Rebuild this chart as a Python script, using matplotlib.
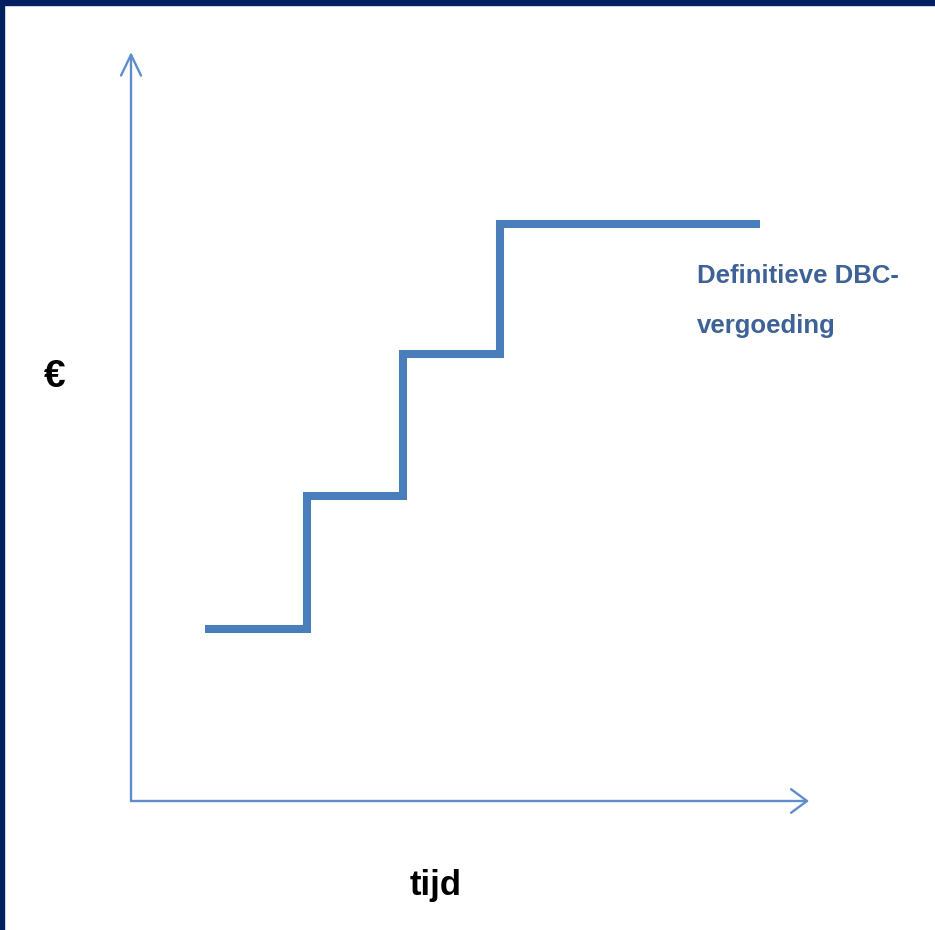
import matplotlib
matplotlib.use("Agg")
import matplotlib.pyplot as plt
from matplotlib.patches import Rectangle

# step function: time breakpoints and euro levels
step_times = [0.74, 1.76, 2.72, 3.69, 6.29]
step_levels = [1.72, 3.05, 4.47, 5.77]
x_max = 6.78
y_max = 7.49

label_lines = ["Definitieve DBC-", "vergoeding"]
x_label = "tijd"
y_label = "€"

FONT = ["Liberation Sans", "DejaVu Sans"]

W, H = 935, 930
fig = plt.figure(figsize=(W / 100, H / 100), dpi=100)
fig.patch.set_facecolor("white")

# navy frame on the top and left edge
navy = "#002060"
fig.patches.append(Rectangle((0, 0), 4 / W, 1, transform=fig.transFigure,
                             color=navy, zorder=10))
fig.patches.append(Rectangle((0, 1 - 5 / H), 1, 5 / H, transform=fig.transFigure,
                             color=navy, zorder=10))

x0, y0 = 131, 801
ax = fig.add_axes([x0 / W, (H - y0) / H, (809 - x0) / W, (y0 - 52) / H])
ax.set_xlim(0, x_max)
ax.set_ylim(0, y_max)
ax.set_axis_off()

# axis arrows
arrow_col = "#5F8DCC"
ax.annotate("", xy=(1, 0), xytext=(0, 0), xycoords="axes fraction",
            arrowprops=dict(arrowstyle="->,head_length=1.15,head_width=0.85",
                            color=arrow_col, lw=1.7, shrinkA=0, shrinkB=0))
ax.annotate("", xy=(0, 1), xytext=(0, 0), xycoords="axes fraction",
            arrowprops=dict(arrowstyle="->,head_length=1.5,head_width=0.72",
                            color=arrow_col, lw=1.7, shrinkA=0, shrinkB=0))

# step line
xs, ys = [], []
for i, lvl in enumerate(step_levels):
    xs += [step_times[i], step_times[i + 1]]
    ys += [lvl, lvl]
ax.plot(xs, ys, color="#4A7EBB", lw=5.8, solid_joinstyle="miter",
        solid_capstyle="butt")

for line, base in zip(label_lines, [283, 333]):
    fig.text(697 / W, 1 - base / H, line, ha="left", va="baseline",
             fontsize=18.5, fontweight="bold", family=FONT, color="#3F6296")

fig.text(55 / W, 1 - 387 / H, y_label, ha="center", va="baseline",
         fontsize=28, fontweight="bold", color="black", family=FONT)
fig.text(436 / W, 1 - 895 / H, x_label, ha="center", va="baseline",
         fontsize=25, fontweight="bold", color="black", family=FONT)

fig.savefig("out.png", dpi=100, facecolor="white")
